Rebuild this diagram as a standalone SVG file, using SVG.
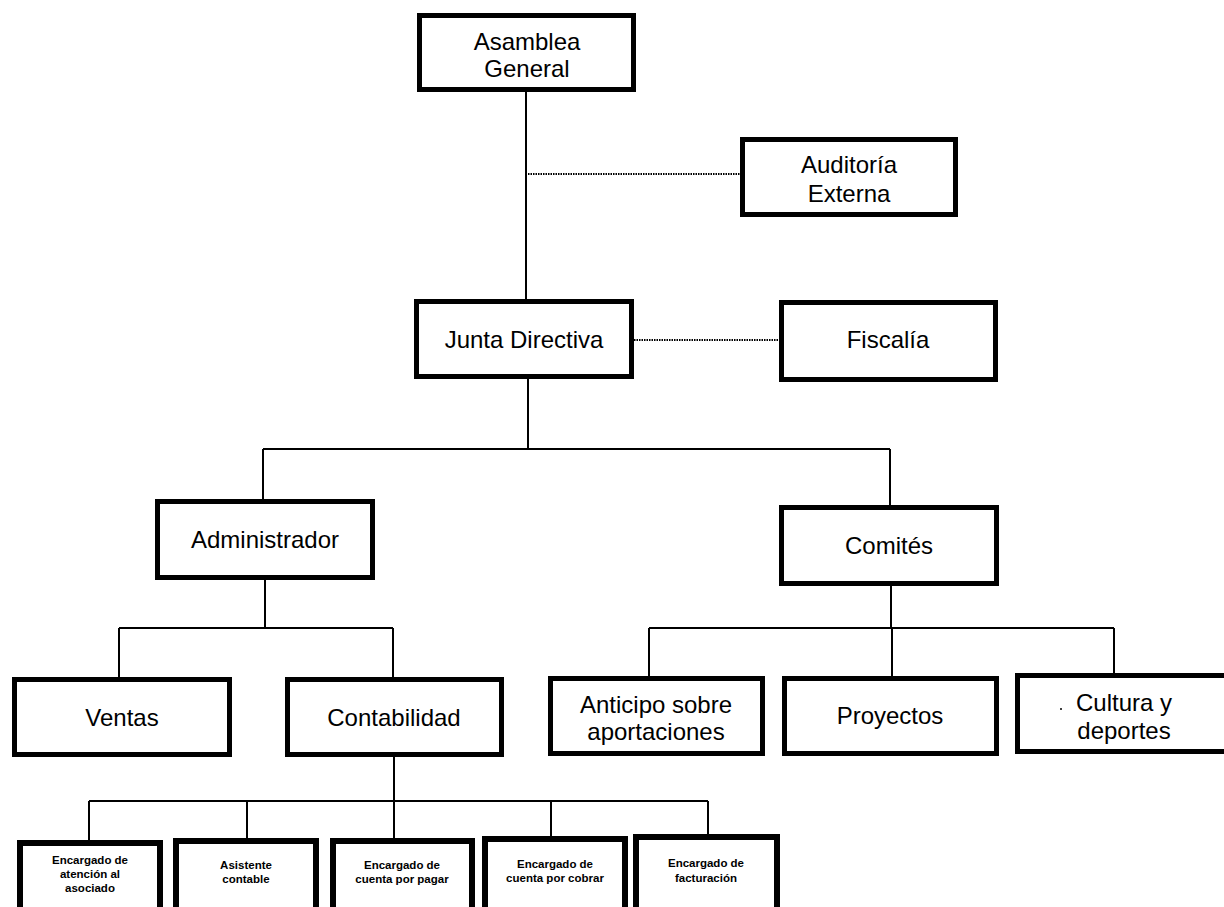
<svg xmlns="http://www.w3.org/2000/svg" width="1224" height="907" viewBox="0 0 1224 907">
<style>
.box{fill:#fff;stroke:#000;stroke-width:5}
.sbox{fill:#fff;stroke:#000;stroke-width:6}
.t{font-family:"Liberation Sans",Arial,sans-serif;font-size:24px;fill:#000;text-anchor:middle}
.s{font-family:"Liberation Sans",Arial,sans-serif;font-size:11.5px;font-weight:bold;fill:#000;text-anchor:middle}
.ln{stroke:#000;stroke-width:2;fill:none}
.dot{stroke:#000;stroke-width:2;fill:none;stroke-dasharray:1.5 1}
</style>
<rect width="1224" height="907" fill="#fff"/>
<g id="connectors">
<path class="ln" d="M526 92V299"/>
<path class="dot" d="M528 174H740"/>
<path class="dot" d="M634 340H779"/>
<path class="ln" d="M528 379V449M263 449H890M263 449V499M890 449V505"/>
<path class="ln" d="M265 580V628M119 628H393M119 628V677M393 628V677"/>
<path class="ln" d="M891 586V628M649 628H1114M649 628V676M892 628V676M1114 628V673"/>
<path class="ln" d="M394 757V838M89 801H708M89 801V840M247 801V838M551 801V836M708 801V834"/>
</g>
<g id="asamblea"><rect class="box" x="419.5" y="15.5" width="214" height="74"/><text class="t" x="527" y="50">Asamblea</text><text class="t" x="527" y="77">General</text></g>
<g id="auditoria"><rect class="box" x="742.5" y="139.5" width="213" height="75"/><text class="t" x="849" y="173">Auditoría</text><text class="t" x="849" y="202">Externa</text></g>
<g id="junta"><rect class="box" x="416.5" y="301.5" width="215" height="75"/><text class="t" x="524" y="348">Junta Directiva</text></g>
<g id="fiscalia"><rect class="box" x="781.5" y="302.5" width="214" height="77"/><text class="t" x="888" y="348">Fiscalía</text></g>
<g id="administrador"><rect class="box" x="157.5" y="501.5" width="215" height="76"/><text class="t" x="265" y="548">Administrador</text></g>
<g id="comites"><rect class="box" x="781.5" y="507.5" width="215" height="76"/><text class="t" x="889" y="554">Comités</text></g>
<g id="ventas"><rect class="box" x="14.5" y="679.5" width="215" height="75"/><text class="t" x="122" y="726">Ventas</text></g>
<g id="contabilidad"><rect class="box" x="287.5" y="679.5" width="214" height="75"/><text class="t" x="394" y="726">Contabilidad</text></g>
<g id="anticipo"><rect class="box" x="550.5" y="678.5" width="212" height="75"/><text class="t" x="656" y="713">Anticipo sobre</text><text class="t" x="656" y="740">aportaciones</text></g>
<g id="proyectos"><rect class="box" x="784.5" y="678.5" width="212" height="75"/><text class="t" x="890" y="724">Proyectos</text></g>
<g id="cultura"><rect class="box" x="1017.5" y="675.5" width="220" height="76"/><circle cx="1061" cy="709" r="1"/><text class="t" x="1124" y="711">Cultura y</text><text class="t" x="1124" y="739">deportes</text></g>
<g id="atencion"><rect class="sbox" x="20" y="843" width="140" height="80"/><text class="s" x="90" y="864">Encargado de</text><text class="s" x="90" y="878">atención al</text><text class="s" x="90" y="892">asociado</text></g>
<g id="asistente"><rect class="sbox" x="176" y="841" width="140" height="80"/><text class="s" x="246" y="869">Asistente</text><text class="s" x="246" y="883">contable</text></g>
<g id="pagar"><rect class="sbox" x="333" y="841" width="139" height="80"/><text class="s" x="402" y="869">Encargado de</text><text class="s" x="402" y="883">cuenta por pagar</text></g>
<g id="cobrar"><rect class="sbox" x="485" y="839" width="140" height="80"/><text class="s" x="555" y="868">Encargado de</text><text class="s" x="555" y="882">cuenta por cobrar</text></g>
<g id="facturacion"><rect class="sbox" x="636" y="837" width="141" height="80"/><text class="s" x="706" y="867">Encargado de</text><text class="s" x="706" y="882">facturación</text></g>
</svg>
